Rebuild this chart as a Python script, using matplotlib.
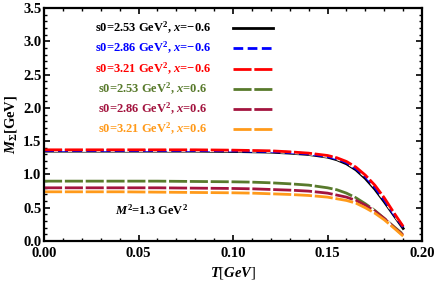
import numpy as np
import matplotlib.pyplot as plt
from matplotlib.ticker import MultipleLocator

plt.rcParams['font.family'] = ['Liberation Serif', 'DejaVu Serif']
plt.rcParams['font.weight'] = 'bold'
plt.rcParams['mathtext.fontset'] = 'custom'
plt.rcParams['mathtext.rm'] = 'Liberation Serif:bold'
plt.rcParams['mathtext.it'] = 'Liberation Serif:italic:bold'
plt.rcParams['mathtext.bf'] = 'Liberation Serif:bold'

T = [0.0, 0.02, 0.04, 0.06, 0.08, 0.10, 0.11, 0.12, 0.13, 0.14, 0.15,
     0.155, 0.16, 0.165, 0.17, 0.175, 0.18, 0.185, 0.19]

m_black = [1.35, 1.35, 1.35, 1.35, 1.35, 1.345, 1.34, 1.335, 1.32, 1.30, 1.26,
           1.22, 1.16, 1.07, 0.94, 0.78, 0.59, 0.39, 0.19]
m_blue = [1.36, 1.36, 1.36, 1.36, 1.36, 1.355, 1.35, 1.345, 1.33, 1.31, 1.27,
          1.235, 1.18, 1.09, 0.97, 0.81, 0.62, 0.41, 0.21]
m_red = [1.37, 1.37, 1.37, 1.37, 1.37, 1.365, 1.36, 1.355, 1.34, 1.32, 1.285,
         1.25, 1.195, 1.11, 0.99, 0.84, 0.65, 0.43, 0.22]
m_green = [0.90, 0.90, 0.90, 0.90, 0.895, 0.89, 0.885, 0.875, 0.86, 0.84, 0.80,
           0.77, 0.72, 0.65, 0.56, 0.46, 0.34, 0.22, 0.10]
m_purple = [0.80, 0.80, 0.80, 0.80, 0.795, 0.79, 0.785, 0.775, 0.765, 0.75, 0.72,
            0.69, 0.66, 0.61, 0.54, 0.45, 0.34, 0.21, 0.09]
m_orange = [0.74, 0.74, 0.74, 0.735, 0.73, 0.725, 0.72, 0.71, 0.70, 0.685, 0.66,
            0.635, 0.61, 0.57, 0.50, 0.42, 0.32, 0.20, 0.075]

labels = [r"s0=2.53 GeV$^2$, $x$=$-$0.6",
          r"s0=2.86 GeV$^2$, $x$=$-$0.6",
          r"s0=3.21 GeV$^2$, $x$=$-$0.6",
          r"s0=2.53 GeV$^2$, $x$=0.6",
          r"s0=2.86 GeV$^2$, $x$=0.6",
          r"s0=3.21 GeV$^2$, $x$=0.6"]
series = [m_black, m_blue, m_red, m_green, m_purple, m_orange]
colors = ['black', '#0000ff', '#ff0000', '#587a2c', '#a3143f', '#ff9a1a']
dashes = [None, (3.5, 1.6), (6.5, 1.0), (6.5, 1.0), (6.5, 1.0), (6.5, 1.0)]

fig = plt.figure(figsize=(4.36, 2.82), dpi=100)
ax = fig.add_axes([0.101, 0.145, 0.867, 0.827])

# black first, dashed curves drawn on top of it
order = [0, 3, 4, 5, 1, 2]
for i in order:
    kw = dict(color=colors[i], lw=2.0)
    if dashes[i] is None:
        ax.plot(T, series[i], **kw)
    else:
        ax.plot(T, series[i], dashes=dashes[i], gapcolor='white', **kw)

# legend rows: text on the left, line sample on the right
leg_y = [3.2, 2.9, 2.59, 2.29, 1.99, 1.69]
for i in range(6):
    ax.text(0.0575, leg_y[i], labels[i], color=colors[i], fontsize=9,
            ha='center', va='center', fontweight='bold')
    if dashes[i] is None:
        ax.plot([0.1, 0.121], [leg_y[i]] * 2, color=colors[i], lw=2.0)
    else:
        ax.plot([0.1, 0.121], [leg_y[i]] * 2, color=colors[i], lw=2.0,
                dashes=dashes[i])

ax.text(0.0375, 0.46, r"$M^2$=1.3 GeV$^2$", fontsize=9, ha='left', va='center',
        fontweight='bold')

ax.set_xlim(0, 0.2)
ax.set_ylim(0, 3.5)
ax.xaxis.set_major_locator(MultipleLocator(0.05))
ax.xaxis.set_minor_locator(MultipleLocator(0.01))
ax.yaxis.set_major_locator(MultipleLocator(0.5))
ax.yaxis.set_minor_locator(MultipleLocator(0.1))
ax.xaxis.set_major_formatter(plt.FormatStrFormatter('%.2f'))
ax.yaxis.set_major_formatter(plt.FormatStrFormatter('%.1f'))
ax.tick_params(which='both', direction='in', top=True, right=True, labelsize=10.5)
ax.tick_params(axis='x', pad=4.5)
ax.tick_params(axis='y', pad=2)
ax.tick_params(which='major', length=4, width=1.2)
ax.tick_params(which='minor', length=2, width=1.0)
for lab in ax.get_xticklabels() + ax.get_yticklabels():
    lab.set_fontweight('bold')
for s in ax.spines.values():
    s.set_linewidth(1.6)

ax.set_xlabel(r"$T$[$GeV$]", fontsize=10.5, labelpad=3)
ax.set_ylabel(r"$M_\Sigma$[GeV]", fontsize=10.5, labelpad=3, fontweight='bold')

fig.savefig("out.png", dpi=100)
